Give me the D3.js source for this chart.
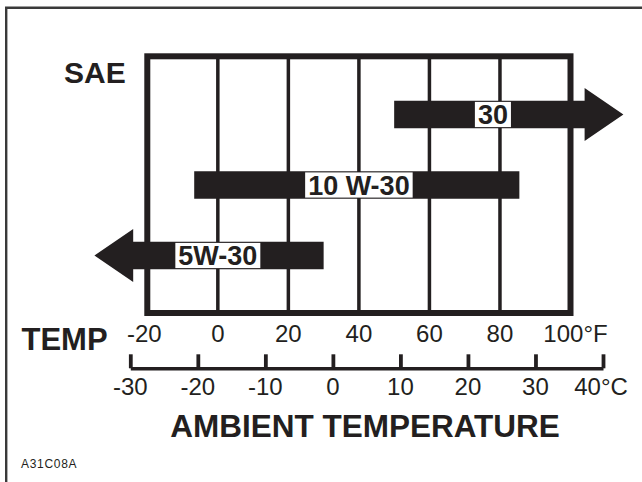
<!DOCTYPE html>
<html>
<head>
<meta charset="utf-8">
<script src="https://cdn.jsdelivr.net/npm/d3@7"></script>
<style>
  body { margin: 0; background: #fff; }
  text { font-family: "Liberation Sans", Arial, Helvetica, sans-serif; fill: #231f20; }
</style>
</head>
<body>
<div id="chart-area"></div>
<script>
// oil grade ranges, in deg F
var grades = ["30", "10 W-30", "5W-30"];
var minF = [50, -6.7, -24];
var maxF = [104, 85.5, 30];
var tipF = [115, null, -35];      // arrow point, open end of the range
var labelF = [78, 40, 0];         // where the grade name sits

var fTicks = [-20, 0, 20, 40, 60, 80, 100];
var cTicks = [-30, -20, -10, 0, 10, 20, 30, 40];

var ink = "#231f20";

var svg = d3.select("#chart-area").append("svg")
    .attr("width", 642)
    .attr("height", 482);

// outer frame (runs off the right and bottom edges)
svg.append("path")
    .attr("d", "M6.2,490 V7.8 H650")
    .attr("fill", "none")
    .attr("stroke", "#3a3a3a")
    .attr("stroke-width", 2.4);

var x = d3.scaleLinear().domain([-20, 100]).range([147.3, 570.5]);
var c = d3.scaleLinear().domain([-30, 40]).range([130.3, 603]);
var y = d3.scalePoint().domain(grades).range([114.5, 255.5]);

var boxTop = 56.3, boxBottom = 313;

// grid lines
svg.selectAll(".grid")
    .data(fTicks.slice(1, -1))
    .enter()
    .append("line")
        .attr("x1", (d) => x(d))
        .attr("x2", (d) => x(d))
        .attr("y1", boxTop)
        .attr("y2", boxBottom)
        .attr("stroke", ink)
        .attr("stroke-width", 3.5);

svg.append("rect")
    .attr("x", x(-20))
    .attr("y", boxTop)
    .attr("width", x(100) - x(-20))
    .attr("height", boxBottom - boxTop)
    .attr("fill", "none")
    .attr("stroke", ink)
    .attr("stroke-width", 6);

// bars / arrows
var barH = 13.8, headH = 26.6;
var bars = grades.map((g, i) => {
    return { grade: g, lo: minF[i], hi: maxF[i], tip: tipF[i], label: labelF[i] };
});

svg.selectAll(".bar")
    .data(bars)
    .enter()
    .append("path")
        .attr("fill", ink)
        .attr("d", (d) => {
            var cy = y(d.grade);
            var x0 = x(d.lo), x1 = x(d.hi);
            if (d.tip === null) {
                return "M" + x0 + "," + (cy - barH) + "H" + x1 + "V" + (cy + barH) + "H" + x0 + "Z";
            }
            var xt = x(d.tip);
            if (d.tip > d.hi) {
                return "M" + x0 + "," + (cy - barH) + "H" + x1 + "V" + (cy - headH) +
                    "L" + xt + "," + cy + "L" + x1 + "," + (cy + headH) + "V" + (cy + barH) +
                    "H" + x0 + "Z";
            }
            return "M" + x1 + "," + (cy - barH) + "H" + x0 + "V" + (cy - headH) +
                "L" + xt + "," + cy + "L" + x0 + "," + (cy + headH) + "V" + (cy + barH) +
                "H" + x1 + "Z";
        });

var labels = svg.selectAll(".lbl")
    .data(bars)
    .enter()
    .append("g");

labels.append("rect").attr("fill", "#fff");
labels.append("text")
    .attr("x", (d) => x(d.label))
    .attr("y", (d) => y(d.grade) + 9.6)
    .attr("text-anchor", "middle")
    .attr("font-size", 27)
    .attr("font-weight", "bold")
    .text((d) => d.grade);

labels.each(function(d) {
    var g = d3.select(this);
    var w = g.select("text").node().getComputedTextLength() + 6;
    g.select("rect")
        .attr("x", x(d.label) - w / 2)
        .attr("y", y(d.grade) - barH + 1.2)
        .attr("width", w)
        .attr("height", 2 * barH - 2.4);
});

// fahrenheit labels
svg.selectAll(".flab")
    .data(fTicks)
    .enter()
    .append("text")
        .attr("x", (d) => x(d))
        .attr("dx", (d) => d === 100 ? 5 : (d === -20 ? -3 : 0))
        .attr("y", 342)
        .attr("text-anchor", "middle")
        .attr("font-size", 24)
        .text((d) => d === 100 ? d + "°F" : d);

// celsius scale
var cAxis = svg.append("g")
    .attr("transform", "translate(0,368.3)")
    .call(d3.axisTop(c).tickValues(cTicks).tickSizeInner(14).tickSizeOuter(0).tickFormat(""));
cAxis.select(".domain").attr("stroke", ink).attr("stroke-width", 3.6);
cAxis.selectAll(".tick line").attr("stroke", ink).attr("stroke-width", 3.8);

svg.selectAll(".clab")
    .data(cTicks)
    .enter()
    .append("text")
        .attr("x", (d) => c(d))
        .attr("dx", (d) => d === 40 ? -2 : 0)
        .attr("y", 395)
        .attr("text-anchor", "middle")
        .attr("font-size", 24)
        .text((d) => d === 40 ? d + "°C" : d);

// titles
svg.append("text")
    .attr("x", 64).attr("y", 83.3)
    .attr("font-size", 30).attr("font-weight", "bold")
    .text("SAE");

svg.append("text")
    .attr("x", 21.5).attr("y", 349.5)
    .attr("font-size", 31).attr("font-weight", "bold")
    .text("TEMP");

svg.append("text")
    .attr("x", 365).attr("y", 437.3)
    .attr("text-anchor", "middle")
    .attr("font-size", 31.5).attr("font-weight", "bold")
    .text("AMBIENT TEMPERATURE");

svg.append("text")
    .attr("x", 21).attr("y", 468.3)
    .attr("font-size", 12)
    .attr("letter-spacing", 0.7)
    .text("A31C08A");
</script>
</body>
</html>
